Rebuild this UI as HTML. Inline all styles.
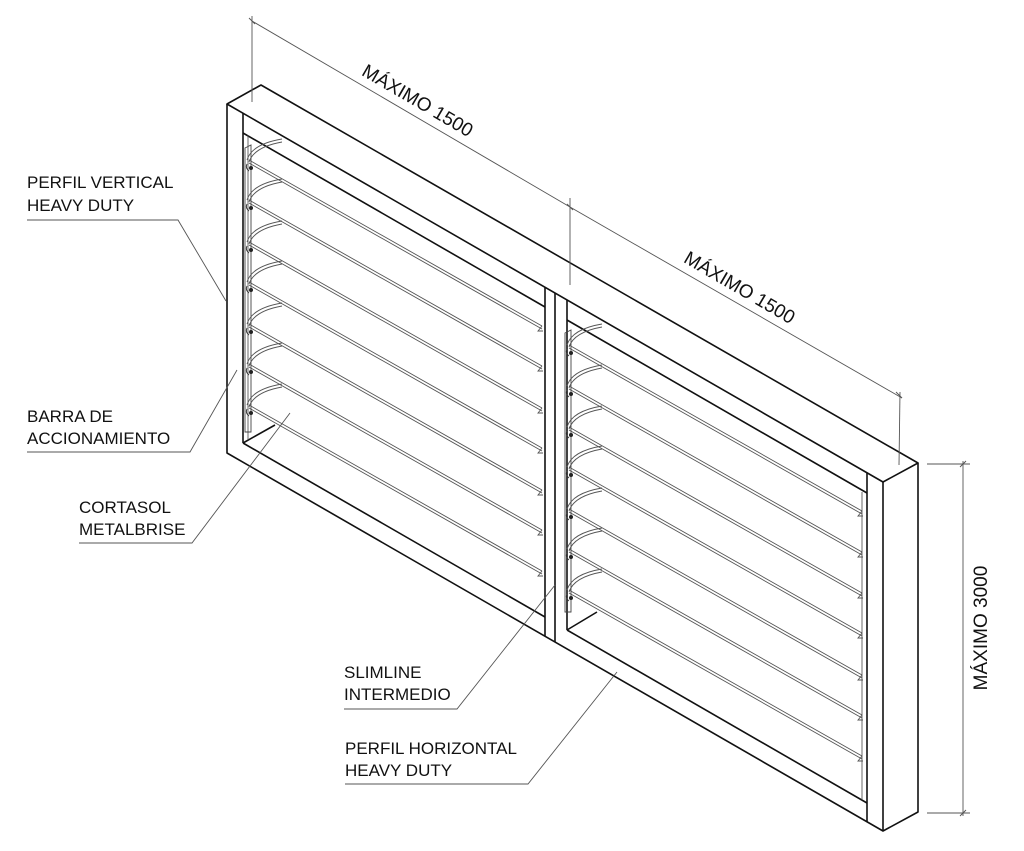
<!DOCTYPE html>
<html><head><meta charset="utf-8"><style>
html,body{margin:0;padding:0;background:#fff;}
svg{display:block;}
text{font-family:"Liberation Sans",sans-serif;fill:#111;}
</style></head><body>
<svg width="1024" height="851" viewBox="0 0 1024 851" xmlns="http://www.w3.org/2000/svg">
<defs>
<g id="louL" fill="none" stroke="#555" stroke-width="0.9">
  <path d="M249,-8 L542,158 M249,-5 L542,161"/>
  <path d="M247,-8 Q252,-24 282,-29 M249,-6 Q254,-21 282,-26"/>
  <path d="M542,158 L538,163 L543,163"/>
  <circle cx="251" cy="0" r="2" fill="#222" stroke="none"/>
  <path d="M247,-4 Q245,0 249,3" stroke="#333"/>
</g>
</defs>

<!-- frame -->
<g fill="none" stroke="#111" stroke-width="1.6" stroke-linejoin="round">
  <!-- top face -->
  <path d="M227,104 L261,85 L918,463 L883,482 Z"/>
  <!-- outer front -->
  <path d="M227,104 L227,453 L883,831"/>
  <path d="M883,482 L883,831 L918,812 L918,463"/>
  <!-- left post inner -->
  <path d="M243,113 L243,443"/>
  <!-- top inner edges -->
  <path d="M243,133 L545,307"/>
  <path d="M567,320 L867,493"/>
  <!-- bottom inner edges -->
  <path d="M243,443 L545,617"/>
  <path d="M567,630 L867,803"/>
  <!-- mullion -->
  <path d="M545,287 L545,636"/>
  <path d="M555,293 L555,642"/>
  <path d="M567,300 L567,630"/>
  <!-- right post inner -->
  <path d="M867,473 L867,822"/>
  <!-- bottom depth edges -->
  <path d="M243,443 L275,425"/>
  <path d="M567,630 L597,612"/>
</g>
<g fill="none" stroke="#444" stroke-width="0.8">
  <path d="M248,135 L248,440"/>
  <path d="M862,492 L862,800"/>
</g>

<!-- bars -->
<g fill="none" stroke="#444" stroke-width="0.9">
  <path d="M245,148 L251,145 L251,432 L245,432 Z"/>
  <path d="M565,333 L571,330 L571,612 L565,612 Z"/>
</g>

<!-- louvers left -->
<use href="#louL" transform="translate(0,168)"/>
<use href="#louL" transform="translate(0,208)"/>
<use href="#louL" transform="translate(0,250)"/>
<use href="#louL" transform="translate(0,290)"/>
<use href="#louL" transform="translate(0,332)"/>
<use href="#louL" transform="translate(0,372)"/>
<use href="#louL" transform="translate(0,413)"/>
<!-- louvers right -->
<use href="#louL" transform="translate(320,353)"/>
<use href="#louL" transform="translate(320,394)"/>
<use href="#louL" transform="translate(320,435)"/>
<use href="#louL" transform="translate(320,475)"/>
<use href="#louL" transform="translate(320,517)"/>
<use href="#louL" transform="translate(320,557)"/>
<use href="#louL" transform="translate(320,598)"/>

<!-- dimensions -->
<g fill="none" stroke="#555" stroke-width="0.9">
  <path d="M252,16 L252,102"/>
  <path d="M249,18 L255,24 M567,204 L573,210 M896,392 L902,398"/>
  <path d="M252,21 L570,207 L902,398"/>
  <path d="M570,198 L570,285"/>
  <path d="M900,392 L899,465"/>
  <path d="M927,464 L970,464 M927,813 L970,813"/>
  <path d="M963,461 L963,816"/>
  <path d="M960,467 L966,461 M960,816 L966,810"/>
</g>
<text x="418" y="107" font-size="19" text-anchor="middle" transform="rotate(30.3 418 100)">MÁXIMO 1500</text>
<text x="740" y="294" font-size="19" text-anchor="middle" transform="rotate(30.3 740 287)">MÁXIMO 1500</text>
<text x="980" y="635" font-size="19" text-anchor="middle" transform="rotate(-90 980 628)">MÁXIMO 3000</text>

<!-- leaders -->
<g fill="none" stroke="#555" stroke-width="0.9">
  <path d="M27,220 L178,220 L226,301"/>
  <path d="M27,452 L190,452 L237,370"/>
  <path d="M79,543 L192,543 L290,413"/>
  <path d="M344,709 L457,709 L555,585"/>
  <path d="M345,784 L528,784 L617,672"/>
</g>
<g font-size="17">
  <text x="27" y="188">PERFIL VERTICAL</text>
  <text x="27" y="211">HEAVY DUTY</text>
  <text x="27" y="422">BARRA DE</text>
  <text x="27" y="444">ACCIONAMIENTO</text>
  <text x="79" y="513">CORTASOL</text>
  <text x="79" y="535">METALBRISE</text>
  <text x="344" y="678">SLIMLINE</text>
  <text x="344" y="700">INTERMEDIO</text>
  <text x="345" y="754">PERFIL HORIZONTAL</text>
  <text x="345" y="776">HEAVY DUTY</text>
</g>
</svg>
</body></html>
